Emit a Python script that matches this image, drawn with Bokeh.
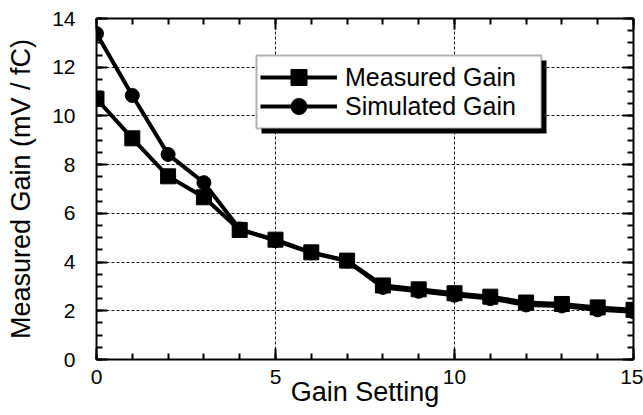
from bokeh.plotting import figure
from bokeh.models import (Range1d, LinearAxis, SingleIntervalTicker, Legend, LegendItem,
                          BoxAnnotation, ColumnDataSource)
from bokeh.embed import file_html
from bokeh.resources import INLINE

# ---- data ----
gain_setting = list(range(16))
measured_gain = [10.7, 9.08, 7.52, 6.66, 5.32, 4.92, 4.4, 4.06, 3.04, 2.88, 2.72, 2.58,
                 2.34, 2.28, 2.14, 2.04]
simulated_gain = [13.38, 10.84, 8.42, 7.26, 5.36, 4.88, 4.38, 4.04, 2.96, 2.8, 2.64, 2.5,
                  2.24, 2.2, 2.04, 1.96]
x_label = "Gain Setting"
y_label = "Measured Gain (mV / fC)"
series_names = ["Measured Gain", "Simulated Gain"]

FONT = "Liberation Sans"

src = ColumnDataSource(dict(x=gain_setting, m=measured_gain, s=simulated_gain))

p = figure(width=643, height=415, output_backend="svg", toolbar_location=None,
           x_range=Range1d(0, 15), y_range=Range1d(0, 14),
           min_border_left=96, min_border_right=10, min_border_top=18, min_border_bottom=56,
           x_axis_location=None, y_axis_location=None)
p.outline_line_color = None
p.background_fill_color = "white"
p.border_fill_color = "white"

xt = SingleIntervalTicker(interval=5, num_minor_ticks=5)
yt = SingleIntervalTicker(interval=2, num_minor_ticks=4)


def style_axis(ax, labels=True):
    ax.axis_line_width = 2
    ax.axis_line_color = "black"
    ax.major_tick_in = 11
    ax.major_tick_out = 0
    ax.minor_tick_in = 6
    ax.minor_tick_out = 0
    ax.major_tick_line_width = 2
    ax.minor_tick_line_width = 2
    ax.major_tick_line_color = "black"
    ax.minor_tick_line_color = "black"
    ax.major_label_text_font = FONT
    ax.major_label_text_color = "black"
    ax.axis_label_text_font = FONT
    ax.axis_label_text_font_style = "normal"
    ax.axis_label_text_color = "black"
    if labels:
        ax.major_label_text_font_size = "21px"
        ax.axis_label_text_font_size = "27px"
    else:
        ax.major_label_text_font_size = "1px"
        ax.major_label_text_alpha = 0
        ax.major_label_standoff = 0


xb = LinearAxis(ticker=xt, axis_label=x_label)
style_axis(xb)
xb.major_label_standoff = 10
xb.axis_label_standoff = -10
p.add_layout(xb, "below")

yl = LinearAxis(ticker=yt, axis_label=y_label)
style_axis(yl)
yl.major_label_standoff = 21
yl.axis_label_standoff = 13
p.add_layout(yl, "left")

xa = LinearAxis(ticker=xt)
style_axis(xa, labels=False)
p.add_layout(xa, "above")

yr = LinearAxis(ticker=yt)
style_axis(yr, labels=False)
p.add_layout(yr, "right")

p.xgrid.ticker = xt
p.ygrid.ticker = yt
for g in (p.xgrid, p.ygrid):
    g.grid_line_color = "black"
    g.grid_line_width = 1
    g.grid_line_dash = "3 2"
    g.grid_line_alpha = 0.9

# ---- series ----
lm = p.line("x", "m", source=src, line_color="black", line_width=4)
sm = p.scatter("x", "m", source=src, marker="square", size=15, fill_color="black",
               line_color="black")
ls = p.line("x", "s", source=src, line_color="black", line_width=4)
ss = p.scatter("x", "s", source=src, marker="circle", size=14, fill_color="black",
               line_color="black")

# ---- legend box with drop shadow ----
shadow = BoxAnnotation(left=4.609, right=12.57, top=12.276, bottom=9.279,
                       fill_color="black", fill_alpha=1, line_color=None)
box = BoxAnnotation(left=4.469, right=12.43, top=12.48, bottom=9.484,
                    fill_color="white", fill_alpha=1, line_color="black", line_width=2)
p.add_layout(shadow)
p.add_layout(box)

legend_locs = [(164, 262), (164, 233)]
for name, rends, loc in zip(series_names, [[lm, sm], [ls, ss]], legend_locs):
    lg = Legend(items=[LegendItem(label=name, renderers=rends)],
                location=loc, orientation="vertical",
                glyph_width=77, glyph_height=40, label_height=40,
                spacing=0, padding=0, margin=0, label_standoff=8,
                border_line_color=None, background_fill_alpha=0,
                label_text_font=FONT, label_text_font_size="25px",
                label_text_color="black", label_text_baseline="middle")
    p.add_layout(lg, "center")

open("out.html", "w").write(file_html(p, INLINE))
